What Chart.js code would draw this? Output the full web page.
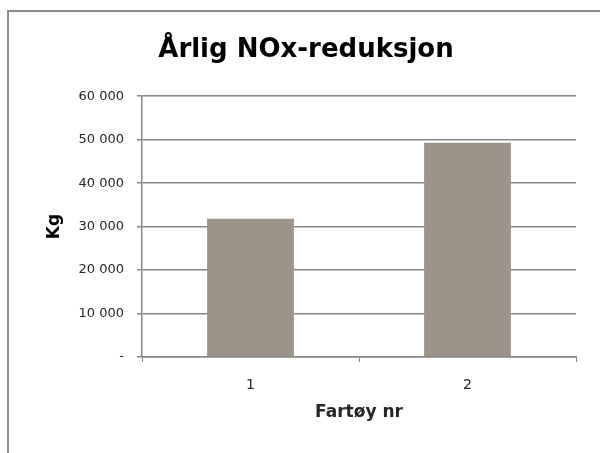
<!DOCTYPE html>
<html>
<head>
<meta charset="utf-8">
<script src="https://cdn.jsdelivr.net/npm/chart.js@4/dist/chart.umd.min.js"></script>
<style>
  html, body { margin: 0; padding: 0; background: #fff; }
  body { width: 600px; height: 453px; position: relative; overflow: hidden; }
  #frame { position: absolute; left: 7px; top: 10px; width: 640px; height: 480px;
           border: 2px solid #8c8c8c; box-sizing: border-box; }
  #wrap { position: absolute; left: 0; top: 0; width: 600px; height: 453px; }
</style>
</head>
<body>
<div id="frame"></div>
<div id="wrap"><canvas id="c" width="600" height="453"></canvas></div>
<script>
// Vessel numbers and their yearly NOx reduction in kg
const vessels = ['1', '2'];
const noxReductionKg = [31800, 49300];
const yTickValues = [0, 10000, 20000, 30000, 40000, 50000, 60000];

const gridColor = '#868686';
const textColor = '#262626';

function formatKg(v) {
  if (v === 0) return '-';
  return String(v).replace(/\B(?=(\d{3})+(?!\d))/g, ' ');
}

new Chart(document.getElementById('c'), {
  type: 'bar',
  data: {
    labels: vessels,
    datasets: [{
      data: noxReductionKg,
      backgroundColor: '#9d9388',
      borderWidth: 0,
      barPercentage: 0.4,
      categoryPercentage: 1.0
    }]
  },
  options: {
    responsive: false,
    animation: false,
    layout: { padding: { left: 36, right: 24, top: 0, bottom: 0 } },
    plugins: {
      legend: { display: false },
      tooltip: { enabled: false },
      title: {
        display: true,
        text: 'Årlig NOx-reduksjon',
        color: '#000',
        font: { family: 'DejaVu Sans', size: 26, weight: 'bold' },
        padding: { top: 35, bottom: 30 }
      }
    },
    scales: {
      x: {
        offset: true,
        afterFit: s => { s.height = 96; },
        grid: {
          offset: true,
          drawOnChartArea: false,
          drawTicks: true,
          tickLength: 5,
          color: gridColor
        },
        border: { color: gridColor, width: 1.5 },
        ticks: {
          color: textColor,
          padding: 15,
          font: { family: 'DejaVu Sans', size: 14 }
        },
        title: {
          display: true,
          text: 'Fartøy nr',
          color: textColor,
          font: { family: 'DejaVu Sans', size: 17, weight: 'bold' },
          padding: { top: 0, bottom: 30 }
        }
      },
      y: {
        min: 0,
        max: 60000,
        afterFit: s => { s.width = 106; },
        afterBuildTicks: s => { s.ticks = yTickValues.map(v => ({ value: v })); },
        grid: {
          color: gridColor,
          lineWidth: 1.5,
          tickLength: 5
        },
        border: { color: gridColor, width: 1.5 },
        ticks: {
          color: textColor,
          padding: 13,
          font: { family: 'DejaVu Sans', size: 13 },
          callback: v => formatKg(v)
        },
        title: {
          display: true,
          text: 'Kg',
          color: '#000',
          font: { family: 'DejaVu Sans', size: 17, weight: 'bold' },
          padding: { top: 8, bottom: 0 }
        }
      }
    }
  }
});
</script>
</body>
</html>
